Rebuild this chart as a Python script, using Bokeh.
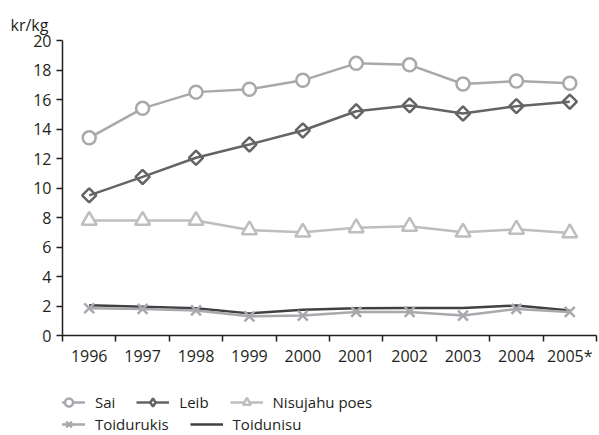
import math
from bokeh.plotting import figure
from bokeh.models import (Range1d, FixedTicker, Legend, LegendItem)
from bokeh.layouts import column
from bokeh.embed import file_html
from bokeh.resources import INLINE

years = ["1996", "1997", "1998", "1999", "2000", "2001", "2002", "2003", "2004", "2005*"]
sai = [13.4, 15.4, 16.5, 16.7, 17.3, 18.45, 18.35, 17.05, 17.25, 17.1]
leib = [9.5, 10.75, 12.05, 12.95, 13.9, 15.2, 15.6, 15.05, 15.55, 15.85]
nisujahu_poes = [7.8, 7.8, 7.8, 7.15, 7.0, 7.3, 7.4, 7.0, 7.2, 6.95]
toidurukis = [1.85, 1.8, 1.7, 1.3, 1.35, 1.6, 1.6, 1.35, 1.8, 1.6]
toidunisu = [2.05, 1.95, 1.85, 1.5, 1.75, 1.85, 1.87, 1.87, 2.03, 1.7]
y_ticks = [0, 2, 4, 6, 8, 10, 12, 14, 16, 18, 20]

FONT = "Open Sans"
FS = "16px"
xs = [i + 0.5 for i in range(len(years))]

C_SAI = "#a7a9ac"
C_LEIB = "#636466"
C_NIS = "#bcbec0"
C_TRK = "#a7a9ac"
C_TNS = "#414042"

def draw(fig, for_legend=False):
    r = {}
    r["tns"] = [fig.line(xs, toidunisu, line_color=C_TNS, line_width=2.5)]
    r["trk"] = [fig.line(xs, toidurukis, line_color=C_TRK, line_width=2.5),
                fig.scatter(xs, toidurukis, marker="x", size=14, line_color=C_TRK, line_width=2.5)]
    r["nis"] = [fig.line(xs, nisujahu_poes, line_color=C_NIS, line_width=2.5),
                fig.scatter(xs, nisujahu_poes, marker="triangle", size=15, line_color=C_NIS,
                            fill_color="white", line_width=2.5)]
    if for_legend:
        leib_marker = fig.scatter(xs, leib, marker="diamond", size=15,
                                  line_color=C_LEIB, fill_color="white", line_width=2.5)
    else:
        leib_marker = fig.scatter(xs, leib, marker="square", size=10, angle=math.pi / 4,
                                  line_color=C_LEIB, fill_color="white", line_width=2.5)
    r["leib"] = [fig.line(xs, leib, line_color=C_LEIB, line_width=2.5), leib_marker]
    r["sai"] = [fig.line(xs, sai, line_color=C_SAI, line_width=2.5),
                fig.scatter(xs, sai, marker="circle", size=13, line_color=C_SAI,
                            fill_color="white", line_width=2.5)]
    return r

p = figure(width=598, height=372, output_backend="svg", toolbar_location=None,
           x_range=Range1d(0, len(years)), y_range=Range1d(0, 20),
           min_border_left=62, min_border_right=2, min_border_top=40,
           min_border_bottom=37)
p.outline_line_color = None
p.grid.visible = False

xa = p.xaxis[0]
xa.ticker = FixedTicker(ticks=xs, minor_ticks=list(range(len(years) + 1)))
xa.major_label_overrides = {x: y for x, y in zip(xs, years)}
xa.major_tick_line_color = None
xa.minor_tick_line_color = "#231f20"
xa.minor_tick_out = 6
xa.minor_tick_in = 0
xa.minor_tick_line_width = 1.5
xa.axis_line_color = "#231f20"
xa.axis_line_width = 1.5
xa.major_label_text_font = FONT
xa.major_label_text_font_size = FS
xa.major_label_text_color = "#231f20"
xa.major_label_standoff = 3

ya = p.yaxis[0]
ya.ticker = FixedTicker(ticks=y_ticks, minor_ticks=[])
ya.major_tick_out = 6
ya.major_tick_in = 0
ya.major_tick_line_width = 1.5
ya.major_tick_line_color = "#231f20"
ya.axis_line_color = "#231f20"
ya.axis_line_width = 1.5
ya.major_label_text_font = FONT
ya.major_label_text_font_size = FS
ya.major_label_text_color = "#231f20"
ya.major_label_standoff = 5

draw(p)

p.title.text = "kr/kg"
p.title.text_font = FONT
p.title.text_font_size = FS
p.title.text_font_style = "normal"
p.title.text_color = "#231f20"
p.title.align = "left"
p.title.offset = -52
p.title.standoff = 10

# legend strip below the chart (its own copies of the series sit outside its view)
lp = figure(width=598, height=62, output_backend="svg", toolbar_location=None,
            x_range=Range1d(-100, -99), y_range=Range1d(-100, -99),
            x_axis_type=None, y_axis_type=None,
            min_border_left=0, min_border_right=0, min_border_top=0, min_border_bottom=0)
lp.outline_line_color = None
lp.grid.visible = False
lr = draw(lp, for_legend=True)

def make_legend(items, loc):
    return Legend(items=items, orientation="horizontal", location=loc,
                  label_text_font=FONT, label_text_font_size="15px",
                  label_text_color="#231f20", glyph_width=33, glyph_height=20,
                  label_standoff=10, spacing=21, padding=0, margin=0,
                  border_line_color=None, background_fill_alpha=0)

leg1 = make_legend([LegendItem(label="Sai", renderers=lr["sai"]),
                    LegendItem(label="Leib", renderers=lr["leib"]),
                    LegendItem(label="Nisujahu poes", renderers=lr["nis"])], (-10, 22))
leg2 = make_legend([LegendItem(label="Toidurukis", renderers=lr["trk"]),
                    LegendItem(label="Toidunisu", renderers=lr["tns"])], (-10, 0))
lp.add_layout(leg1, "center")
lp.add_layout(leg2, "center")

layout = column(p, lp, spacing=0)
open("out.html", "w").write(file_html(layout, INLINE))
